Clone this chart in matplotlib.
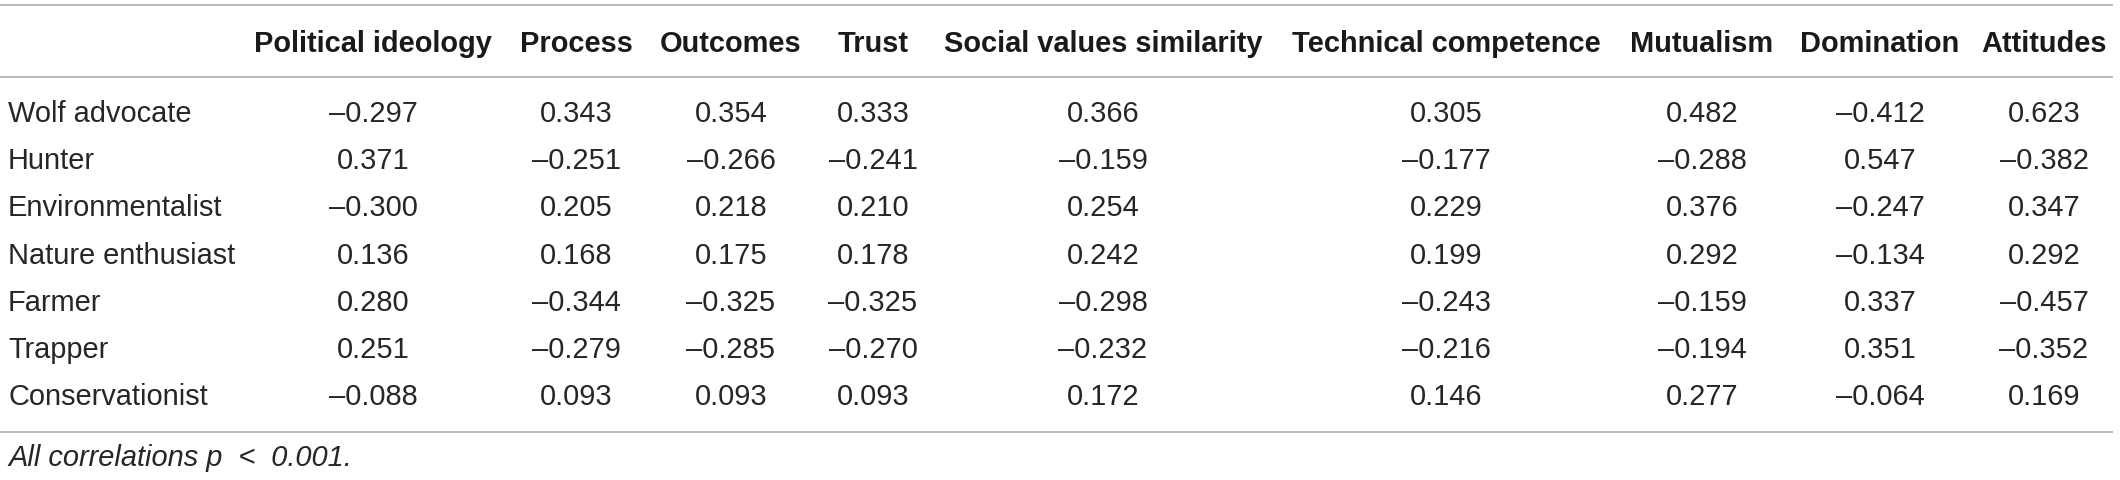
import matplotlib.pyplot as plt

# === Daten ===
rows = ["Wolf advocate", "Hunter", "Environmentalist", "Nature enthusiast",
        "Farmer", "Trapper", "Conservationist"]
headers = ["Political ideology", "Process", "Outcomes", "Trust",
           "Social values similarity", "Technical competence",
           "Mutualism", "Domination", "Attitudes"]

political = [-0.297, 0.371, -0.300, 0.136, 0.280, 0.251, -0.088]
process = [0.343, -0.251, 0.205, 0.168, -0.344, -0.279, 0.093]
outcomes = [0.354, -0.266, 0.218, 0.175, -0.325, -0.285, 0.093]
trust = [0.333, -0.241, 0.210, 0.178, -0.325, -0.270, 0.093]
social = [0.366, -0.159, 0.254, 0.242, -0.298, -0.232, 0.172]
technical = [0.305, -0.177, 0.229, 0.199, -0.243, -0.216, 0.146]
mutualism = [0.482, -0.288, 0.376, 0.292, -0.159, -0.194, 0.277]
domination = [-0.412, 0.547, -0.247, -0.134, 0.337, 0.351, -0.064]
attitudes = [0.623, -0.382, 0.347, 0.292, -0.457, -0.352, 0.169]

columns = [political, process, outcomes, trust, social, technical,
           mutualism, domination, attitudes]
footnote = "All correlations $\\it{p}$ < 0.001."

# === Layout (Pixel) ===
W, H = 2120, 480
col_x = [373, 576, 731, 873, 1103, 1446, 1702, 1880, 2044]
label_x = 8
header_y = 52
row_y0, row_dy = 122, 47.2
line_y = [5, 77, 432]
line_color = "#a6a6a6"
font_px = 29
fs = font_px * 72 / 100

plt.rcParams["font.family"] = ["Liberation Sans", "DejaVu Sans"]

fig = plt.figure(figsize=(W / 100, H / 100), dpi=100)
ax = fig.add_axes([0, 0, 1, 1])
ax.set_xlim(0, W)
ax.set_ylim(H, 0)
ax.axis("off")


def fmt(v):
    s = f"{abs(v):.3f}"
    return ("\u2013" + s) if v < 0 else s


# Linien
for y in line_y:
    ax.plot([0, 2113], [y, y], color=line_color, lw=1.1, solid_capstyle="butt")

# Kopfzeile
for x, h in zip(col_x, headers):
    ax.text(x, header_y, h, ha="center", va="baseline", fontsize=fs,
            fontweight="bold", color="#1a1a1a")

# Zeilen
for i, name in enumerate(rows):
    y = row_y0 + i * row_dy
    ax.text(label_x, y, name, ha="left", va="baseline", fontsize=fs,
            color="#262626")
    for x, col in zip(col_x, columns):
        ax.text(x, y, fmt(col[i]), ha="center", va="baseline", fontsize=fs,
                color="#262626")

# Fussnote
ax.text(label_x, 466, "All correlations p  <  0.001.", ha="left", va="baseline",
        fontsize=fs, style="italic", color="#262626")

fig.savefig("out.png", dpi=100)
